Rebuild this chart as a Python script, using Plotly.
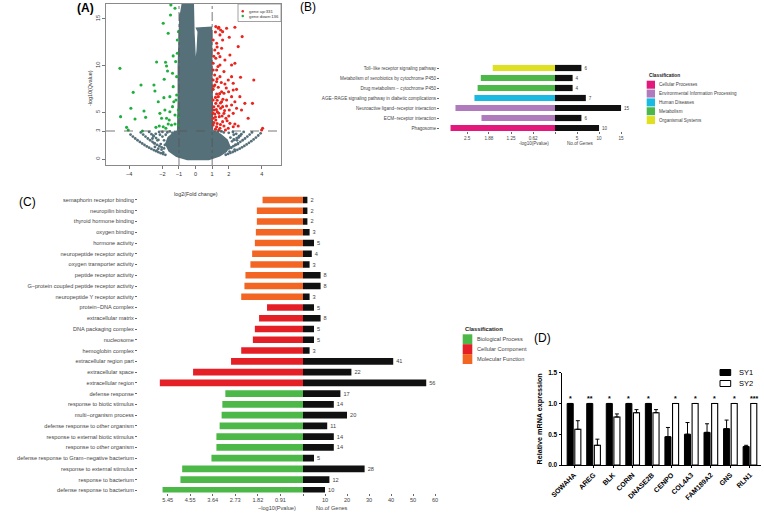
import plotly.graph_objects as go

W, H = 764, 514
FONT = "Liberation Sans"


def px(p):
    return p / W


def py(p):
    return 1 - p / H


# ---------------- Panel A: volcano ----------------
green_x = [-4.56, -4.52, -3.90, -3.76, -3.65, -4.16, -4.06, -3.29, -3.11, -3.01, -3.21, -2.51, -2.45, -2.35,
           -2.39, -2.25, -2.15, -1.95, -1.91, -1.89, -1.81, -1.75, -1.69, -1.65, -1.55, -1.51, -1.49, -1.39,
           -1.35, -1.35, -1.31, -1.24, -1.24, -1.20, -1.14, -1.14, -1.10, -1.10, -1.04, -1.02, -1.45, -1.65,
           -1.79, -1.95, -2.19, -1.55, -1.39, -1.18, -1.59, -1.85, -2.05, -1.75, -1.24, -1.04, -1.03]
green_y = [9.71, 4.54, 5.43, 7.14, 4.29, 3.39, 3.11, 7.93, 5.14, 4.46, 3.00, 7.93, 7.29, 10.39,
           3.39, 6.14, 4.89, 14.54, 6.57, 8.54, 10.36, 9.96, 9.43, 13.46, 5.07, 15.43, 16.50, 9.18,
           11.04, 7.75, 6.14, 16.14, 4.71, 10.43, 8.82, 6.86, 11.32, 12.75, 5.25, 3.64, 3.64, 3.75,
           3.29, 3.46, 3.54, 6.68, 5.61, 6.32, 4.18, 5.25, 4.36, 4.36, 3.75, 4.54, 13.64]
red_x = [1.22, 1.37, 1.51, 1.63, 1.87, 2.37, 1.06, 1.27, 1.47, 1.63, 2.03, 2.81, 1.16, 1.37, 1.57, 2.07,
         2.57, 1.22, 1.06, 1.47, 2.17, 2.37, 1.27, 1.71, 1.47, 1.97, 2.71, 3.51, 1.06, 1.16, 1.37, 1.57,
         1.77, 2.27, 2.47, 1.37, 1.06, 1.22, 1.57, 1.87, 2.17, 2.67, 2.97, 3.43, 1.10, 1.31, 1.51, 1.71,
         2.03, 2.27, 3.17, 1.06, 1.22, 1.43, 1.63, 1.83, 2.07, 2.37, 1.06, 1.27, 1.47, 1.71, 1.97, 2.27,
         2.57, 1.16, 1.37, 1.63, 1.87, 2.17, 2.47, 1.06, 1.27, 1.06, 1.27, 1.71, 1.99, 2.37, 2.77, 4.04,
         3.98, 2.27, 2.17, 1.47, 1.77,
         1.10, 1.30, 1.50, 1.20, 1.40, 1.60, 1.10, 1.30, 1.50, 1.20, 1.45, 1.10, 1.30, 1.55, 1.15, 1.35,
         1.20, 1.40, 1.80, 1.90, 2.00, 1.75, 1.05, 1.25, 1.65, 1.85, 1.10, 1.30, 1.20, 1.40]
red_y = [14.18, 14.00, 13.82, 13.64, 14.00, 14.11, 12.75, 12.39, 13.29, 12.75, 13.04, 13.11, 11.68, 11.32,
         11.86, 11.14, 12.04, 10.79, 10.25, 10.07, 10.07, 10.25, 9.54, 9.36, 8.82, 8.46, 8.75, 8.46, 8.46,
         7.93, 7.68, 7.21, 8.04, 7.39, 7.46, 6.68, 6.32, 5.96, 6.14, 6.32, 6.68, 6.68, 5.96, 5.96, 5.25,
         5.07, 5.43, 4.89, 5.25, 4.89, 4.36, 4.36, 4.18, 4.54, 4.00, 4.36, 3.82, 3.75, 3.64, 3.46, 3.29,
         3.54, 3.29, 3.46, 3.54, 4.82, 5.68, 5.61, 5.68, 5.79, 5.43, 7.46, 6.96, 9.54, 8.29, 7.04, 7.21,
         6.14, 5.25, 3.29, 3.11, 8.11, 8.82, 10.96, 10.61,
         3.90, 3.80, 3.70, 4.50, 4.90, 4.60, 5.60, 6.30, 6.00, 6.60, 7.00, 7.80, 8.60, 8.20, 9.00, 9.90,
         3.20, 3.10, 3.10, 4.10, 4.60, 5.20, 4.90, 5.30, 6.40, 7.60, 11.00, 12.00, 13.60, 14.10]
grey_core_x = [-0.84, -0.14, -0.10, 0.00, 0.10, 0.16, 0.06, 0.96, 0.96, 1.00, 1.00, 1.02, 1.50, 1.90,
               2.05, 1.85, 1.45, 0.80, -0.50, -1.15, -1.60, -1.80, -1.65, -1.35, -1.08, -1.04, -1.04,
               -0.98, -0.94]
grey_core_y = [16.68, 16.68, 13.46, 9.89, 11.68, 13.64, 14.00, 14.11, 13.46, 9.89, 6.32, 3.05, 2.65, 2.05,
               1.40, 0.80, 0.35, -0.05, -0.05, 0.30, 0.85, 1.60, 2.30, 2.75, 3.05, 6.32, 9.89, 13.46, 15.61]
grey_pt_x = [-3.92, -3.78, -3.64, -3.50, -3.36, -3.22, -3.08, -2.94, -2.80, -2.66, -2.52, -2.38, -2.24,
             -2.10, -1.96, -1.82,
             -3.30, -3.16, -3.02, -2.88, -2.74, -2.60, -2.46, -2.32, -2.18, -2.04, -1.90,
             -2.80, -2.66, -2.52, -2.38, -2.24,
             3.92, 3.78, 3.64, 3.50, 3.36, 3.22, 3.08, 2.94, 2.80, 2.66, 2.52, 2.38, 2.24, 2.10, 1.96, 1.82,
             3.40, 3.26, 3.12, 2.98, 2.84, 2.70, 2.56, 2.42, 2.28, 2.14, 2.00,
             2.90, 2.76, 2.62, 2.48, 2.34,
             -2.55, -2.40, -2.30, -2.20, -2.10, -2.00, -1.90, -2.45, -2.25, -2.05, -1.95, -2.35, -2.15,
             -1.85, -2.60, -2.00, -1.80, -2.50, -1.70, -1.55, -1.40, -1.25,
             2.00, 2.10, 2.20, 2.30, 2.40, 2.50, 2.60, 2.15, 2.35, 2.55, 2.05, 2.25, 2.45, 1.90, 2.70,
             2.30, 1.70, 1.55, 1.35, 1.20]
grey_pt_y = [2.62, 2.40, 2.20, 2.01, 1.83, 1.66, 1.50, 1.35, 1.21, 1.08, 0.96, 0.84, 0.73, 0.63, 0.54, 0.45,
             2.85, 2.62, 2.40, 2.20, 2.01, 1.84, 1.67, 1.52, 1.38, 1.25, 1.13,
             2.90, 2.66, 2.44, 2.24, 2.05,
             2.75, 2.52, 2.30, 2.10, 1.91, 1.73, 1.56, 1.40, 1.25, 1.11, 0.98, 0.86, 0.75, 0.65, 0.55, 0.46,
             2.85, 2.62, 2.40, 2.20, 2.01, 1.84, 1.67, 1.52, 1.38, 1.25, 1.13,
             2.90, 2.66, 2.44, 2.24, 2.05,
             2.50, 2.70, 2.00, 2.90, 1.60, 2.40, 2.00, 1.30, 1.10, 1.00, 0.70, 0.90, 2.60,
             1.50, 2.20, 2.90, 2.60, 1.70, 2.85, 2.95, 2.80, 2.90,
             2.80, 2.30, 1.90, 2.60, 1.50, 2.00, 2.30, 1.20, 1.00, 1.60, 0.80, 2.90, 2.70, 1.40, 2.50,
             2.10, 2.85, 2.95, 2.90, 2.80]
fc_cut = [-1, 1]
q_cut = 3
a_xticks = [-4, -2, -1, 0, 1, 2, 4]
a_xticklabels = ["−4", "−2", "−1", "0", "1", "2", "4"]
a_yticks = [0, 3, 5, 10, 15]
n_up, n_down = 331, 136

# ---------------- Panel B: KEGG ----------------
b_terms = ["Toll−like receptor signaling pathway", "Metabolism of xenobiotics by cytochrome P450",
           "Drug metabolism − cytochrome P450", "AGE−RAGE signaling pathway in diabetic complications",
           "Neuroactive ligand−receptor interaction", "ECM−receptor interaction", "Phagosome"]
b_pval = [1.77, 2.11, 2.20, 2.29, 2.83, 2.09, 2.97]
b_genes = [6, 4, 4, 7, 15, 6, 10]
b_class = ["Organismal Systems", "Metabolism", "Metabolism", "Human Diseases",
           "Environmental Information Processing", "Environmental Information Processing",
           "Cellular Processes"]
b_classes = ["Cellular Processes", "Environmental Information Processing", "Human Diseases",
             "Metabolism", "Organismal Systems"]
b_colors = ["#e2187b", "#b07bbd", "#19b9e1", "#4cb848", "#dfe022"]
b_pticks = [0, 0.62, 1.25, 1.88, 2.5]
b_gticks = [0, 5, 10, 15]

# ---------------- Panel C: GO ----------------
c_terms = ["semaphorin receptor binding", "neuropilin binding", "thyroid hormone binding", "oxygen binding",
           "hormone activity", "neuropeptide receptor activity", "oxygen transporter activity",
           "peptide receptor activity", "G−protein coupled peptide receptor activity",
           "neuropeptide Y receptor activity", "protein−DNA complex", "extracellular matrix",
           "DNA packaging complex", "nucleosome", "hemoglobin complex", "extracellular region part",
           "extracellular space", "extracellular region", "defense response", "response to biotic stimulus",
           "multi−organism process", "defense response to other organism",
           "response to external biotic stimulus", "response to other organism",
           "defense response to Gram−negative bacterium", "response to external stimulus",
           "response to bacterium", "defense response to bacterium"]
c_pval = [1.63, 1.86, 1.86, 1.90, 1.94, 2.05, 2.12, 2.32, 2.36, 2.49, 1.45, 1.77, 1.94, 2.02, 2.49, 2.90,
          4.43, 5.77, 3.13, 3.25, 3.28, 3.36, 3.49, 3.49, 3.69, 4.87, 4.94, 5.66]
c_genes = [2, 2, 2, 3, 5, 4, 3, 8, 8, 3, 5, 8, 5, 5, 3, 41, 22, 56, 17, 14, 20, 11, 14, 14, 5, 28, 12, 10]
c_class = ["Molecular Function"] * 10 + ["Cellular Component"] * 8 + ["Biological Process"] * 10
c_classes = ["Biological Process", "Cellular Component", "Molecular Function"]
c_colors = ["#4cb848", "#e41f26", "#f26522"]
c_pticks = [0, 0.91, 1.82, 2.73, 3.64, 4.55, 5.45]
c_gticks = [0, 10, 20, 30, 40, 50, 60]

# ---------------- Panel D: qPCR ----------------
d_genes = ["SOWAHA", "AREG", "BLK", "CORIN", "DNASE2B", "CENPO", "COL4A3", "FAM189A2", "GNS", "RLN1"]
sy1 = [1.0, 1.0, 1.0, 1.0, 1.0, 0.46, 0.50, 0.53, 0.59, 0.30]
sy1_err = [0, 0, 0, 0, 0, 0.15, 0.19, 0.14, 0.14, 0.02]
sy2 = [0.58, 0.32, 0.78, 0.85, 0.85, 1.0, 1.0, 1.0, 1.0, 1.0]
sy2_err = [0.14, 0.10, 0.05, 0.05, 0.05, 0, 0, 0, 0, 0]
d_sig = ["*", "**", "*", "*", "*", "*", "*", "*", "*", "***"]
d_sig_over = ["SY1"] * 5 + ["SY2"] * 5
d_yticks = [0, 0.5, 1.0, 1.5]

GREY_TXT = "#444444"
VOLC_GREY = "#56707a"
fig = go.Figure()

# ---- A traces
fig.add_trace(go.Scatter(x=grey_core_x, y=grey_core_y, mode="lines", fill="toself",
                         fillcolor=VOLC_GREY, line=dict(color=VOLC_GREY, width=1.5),
                         xaxis="x", yaxis="y"))
fig.add_trace(go.Scatter(x=grey_pt_x, y=grey_pt_y, mode="markers",
                         marker=dict(color=VOLC_GREY, size=2.8), xaxis="x", yaxis="y"))
fig.add_trace(go.Scatter(x=red_x, y=red_y, mode="markers",
                         marker=dict(color="#e8251f", size=3.1), xaxis="x", yaxis="y"))
fig.add_trace(go.Scatter(x=green_x, y=green_y, mode="markers",
                         marker=dict(color="#1fae3f", size=3.1), xaxis="x", yaxis="y"))

# ---- B traces
bmap = dict(zip(b_classes, b_colors))
fig.add_trace(go.Bar(y=b_terms, x=b_pval, orientation="h", width=0.62,
                     marker=dict(color=[bmap[c] for c in b_class], line=dict(width=0)),
                     xaxis="x2", yaxis="y2"))
fig.add_trace(go.Bar(y=b_terms, x=b_genes, orientation="h", width=0.62,
                     marker=dict(color="#111111", line=dict(width=0)),
                     text=b_genes, textposition="outside", constraintext="none", cliponaxis=False,
                     textfont=dict(size=4.6, color=GREY_TXT, family=FONT),
                     xaxis="x3", yaxis="y2"))

# ---- C traces
cmap = dict(zip(c_classes, c_colors))
fig.add_trace(go.Bar(y=c_terms, x=c_pval, orientation="h", width=0.62,
                     marker=dict(color=[cmap[c] for c in c_class], line=dict(width=0)),
                     xaxis="x4", yaxis="y4"))
fig.add_trace(go.Bar(y=c_terms, x=c_genes, orientation="h", width=0.62,
                     marker=dict(color="#111111", line=dict(width=0)),
                     text=c_genes, textposition="outside", constraintext="none", cliponaxis=False,
                     textfont=dict(size=5.6, color=GREY_TXT, family=FONT),
                     xaxis="x5", yaxis="y4"))

# ---- D traces
fig.add_trace(go.Bar(x=d_genes, y=sy1, width=0.31, offset=-0.35,
                     marker=dict(color="#000000", line=dict(color="#000000", width=1)),
                     error_y=dict(type="data", array=sy1_err, arrayminus=[0] * len(sy1_err),
                                  symmetric=False, color="#000000", thickness=1, width=2),
                     xaxis="x6", yaxis="y6"))
fig.add_trace(go.Bar(x=d_genes, y=sy2, width=0.31, offset=0.04,
                     marker=dict(color="#ffffff", line=dict(color="#000000", width=1.1)),
                     error_y=dict(type="data", array=sy2_err, arrayminus=[0] * len(sy2_err),
                                  symmetric=False, color="#000000", thickness=1, width=2),
                     xaxis="x6", yaxis="y6"))

small_tick = dict(ticks="outside", ticklen=2, tickcolor="#666666", showgrid=False, zeroline=False,
                  showline=False, automargin=False)

fig.update_layout(
    template="none",
    width=W, height=H, margin=dict(l=0, r=0, t=0, b=0, pad=0, autoexpand=False),
    paper_bgcolor="white", plot_bgcolor="white", showlegend=False, hovermode=False,
    font=dict(family=FONT, color=GREY_TXT),
    barmode="overlay",
    # A
    xaxis=dict(domain=[px(106), px(281)], range=[-5.4, 5.15], tickvals=a_xticks, ticktext=a_xticklabels,
               ticks="outside", ticklen=3, tickcolor="#777777", showline=True, mirror=True,
               linecolor="#8a8a8a", linewidth=1, showgrid=False, zeroline=False, automargin=False,
               tickfont=dict(size=5.6, color="#333333"), anchor="y"),
    yaxis=dict(domain=[py(165), py(4)], range=[-0.64, 16.6], tickvals=a_yticks, tickangle=-90,
               ticks="outside", ticklen=3, tickcolor="#777777", showline=True, mirror=True,
               linecolor="#8a8a8a", linewidth=1, showgrid=False, zeroline=False, automargin=False,
               tickfont=dict(size=5.6, color="#333333"), anchor="x"),
    # B
    xaxis2=dict(domain=[px(440), px(555)], range=[3.27, 0], tickvals=b_pticks,
                ticktext=[("" if v == 0 else str(v)) for v in b_pticks],
                tickfont=dict(size=4.6), anchor="y2", **small_tick),
    xaxis3=dict(domain=[px(555), px(640)], range=[0, 19.3], tickvals=b_gticks,
                ticktext=[("" if v == 0 else str(v)) for v in b_gticks],
                tickfont=dict(size=4.6), anchor="y2", **small_tick),
    yaxis2=dict(domain=[py(131), py(63)], type="category", range=[6.3, -0.5],
                tickfont=dict(size=4.6), anchor="x2", **small_tick),
    # C
    xaxis4=dict(domain=[px(138), px(303)], range=[6.65, 0], tickvals=c_pticks,
                ticktext=[("" if v == 0 else f"{v:.2f}") for v in c_pticks],
                tickfont=dict(size=5.6), anchor="y4", **small_tick),
    xaxis5=dict(domain=[px(303), px(450)], range=[0, 66.8], tickvals=c_gticks,
                ticktext=[("" if v == 0 else str(v)) for v in c_gticks],
                tickfont=dict(size=5.6), anchor="y4", **small_tick),
    yaxis4=dict(domain=[py(492.5), py(194.6)], type="category", range=[27.2, -0.5],
                tickfont=dict(size=5.6), anchor="x4", **small_tick),
    # D
    xaxis6=dict(domain=[px(561.7), px(760.7)], type="category", range=[-0.63, 9.55],
                showline=True, linecolor="#000000", linewidth=1.2, ticks="outside", ticklen=2,
                tickcolor="#000000", tickangle=-45, showgrid=False, zeroline=False, automargin=False,
                tickfont=dict(size=7, color="#000000", weight="bold"), anchor="y6"),
    yaxis6=dict(domain=[py(465), py(372.7)], range=[0, 1.5], tickvals=d_yticks, tickformat=".1f",
                showline=True, linecolor="#000000", linewidth=1.2, ticks="outside", ticklen=2,
                tickcolor="#000000", showgrid=False, zeroline=False, automargin=False,
                tickfont=dict(size=6.5, color="#000000", weight="bold"), anchor="x6",
                title=dict(text="Relative mRNA expression", standoff=4,
                           font=dict(size=7.2, color="#000000", weight="bold"))),
)

# ---- A: threshold lines
for v in fc_cut:
    fig.add_shape(type="line", xref="x", yref="y domain", x0=v, x1=v, y0=0, y1=1,
                  line=dict(color="#555555", width=0.8, dash="dashdot"))
fig.add_shape(type="line", xref="x domain", yref="y", x0=0, x1=1, y0=q_cut, y1=q_cut,
              line=dict(color="#555555", width=0.8, dash="dash"))

shapes = []
ann = []


def text(x, y, s, size, color=GREY_TXT, xanchor="center", bold=False, textangle=0, yanchor="middle"):
    ann.append(dict(x=px(x), y=py(y), xref="paper", yref="paper", text=s, showarrow=False,
                    xanchor=xanchor, yanchor=yanchor, textangle=textangle,
                    font=dict(size=size, color=color, family=FONT, weight="bold" if bold else "normal")))


# ---- A legend
shapes.append(dict(type="rect", xref="paper", yref="paper", x0=px(238), x1=px(281), y0=py(21.5), y1=py(4),
                   line=dict(color="#8a8a8a", width=0.8), fillcolor="white"))
shapes.append(dict(type="circle", xref="paper", yref="paper", x0=px(241.5), x1=px(244), y0=py(12.6),
                   y1=py(10.1), line=dict(width=0), fillcolor="#e8251f"))
shapes.append(dict(type="circle", xref="paper", yref="paper", x0=px(241.5), x1=px(244), y0=py(17.2),
                   y1=py(14.7), line=dict(width=0), fillcolor="#1fae3f"))
text(246.5, 11.4, f"gene up:{n_up}", 4.3, "#333333", xanchor="left")
text(246.5, 16.0, f"gene down:{n_down}", 4.3, "#333333", xanchor="left")
text(195.7, 193.5, "log2(Fold change)", 5.4, "#333333")
text(90, 88, "-log10(Qvalue)", 5.4, "#333333", textangle=-90)

# ---- B legend and titles
text(646.7, 75.7, "Classification", 4.8, "#222222", xanchor="left", bold=True)
for i, (name, col) in enumerate(zip(b_classes, b_colors)):
    y0 = 80.7 + 8.85 * i
    shapes.append(dict(type="rect", xref="paper", yref="paper", x0=px(646.7), x1=px(655),
                       y0=py(y0 + 8), y1=py(y0), line=dict(width=0), fillcolor=col))
    text(656.8, y0 + 4, name, 4.6, GREY_TXT, xanchor="left")
text(534, 143.5, "-log10(Pvalue)", 4.6)
text(580, 143.5, "No.of Genes", 4.6)

# ---- C legend and titles
text(462.7, 329, "Classification", 5.8, "#222222", xanchor="left", bold=True)
for i, (name, col) in enumerate(zip(c_classes, c_colors)):
    y0 = 334.3 + 9.9 * i
    shapes.append(dict(type="rect", xref="paper", yref="paper", x0=px(462.7), x1=px(472.3),
                       y0=py(y0 + 9.9), y1=py(y0), line=dict(width=0), fillcolor=col))
    text(474.5, y0 + 5, name, 5.6, GREY_TXT, xanchor="left")
text(277, 507.5, "−log10(Pvalue)", 5.6)
text(332, 507.5, "No.of Genes", 5.6)

# ---- D legend and significance
shapes.append(dict(type="rect", xref="paper", yref="paper", x0=px(720), x1=px(730.7), y0=py(375.5),
                   y1=py(369.5), line=dict(color="#000000", width=1), fillcolor="#000000"))
shapes.append(dict(type="rect", xref="paper", yref="paper", x0=px(720), x1=px(730.7), y0=py(386.5),
                   y1=py(380.5), line=dict(color="#000000", width=1), fillcolor="#ffffff"))
text(737, 372.5, "SY1", 7.5, "#000000", xanchor="left")
text(737, 383.5, "SY2", 7.5, "#000000", xanchor="left")
for g, s, over in zip(d_genes, d_sig, d_sig_over):
    ann.append(dict(x=g, y=1.08, xref="x6", yref="y6", text=s, showarrow=False,
                    xshift=(-3.7 if over == "SY1" else 3.7), yanchor="middle",
                    font=dict(size=7, color="#000000", family=FONT, weight="bold")))

# ---- panel labels
text(85, 8, "(A)", 12, "#000000", bold=True)
text(308, 7, "(B)", 12, "#000000")
text(28, 202, "(C)", 12, "#000000")
text(542, 338, "(D)", 12, "#000000")

fig.update_layout(shapes=list(fig.layout.shapes) + shapes, annotations=ann)
fig.write_html("out.html", config={"displayModeBar": False, "staticPlot": True},
               post_script="document.body.style.margin='0px';")
